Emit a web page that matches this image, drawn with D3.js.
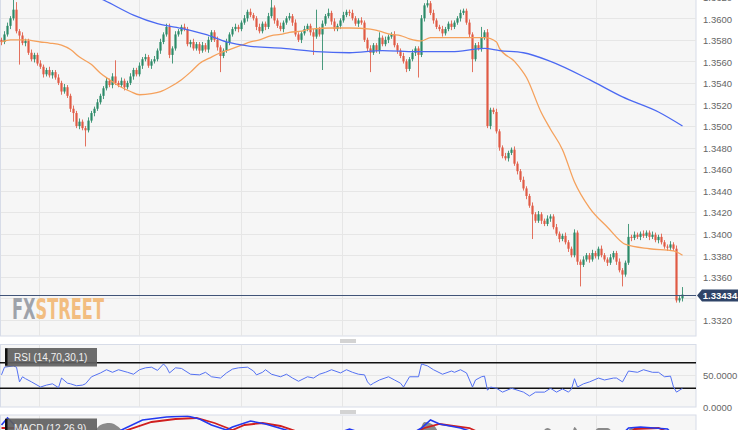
<!DOCTYPE html>
<html><head><meta charset="utf-8">
<script src="https://cdn.jsdelivr.net/npm/d3@7"></script>
<style>html,body{margin:0;padding:0;background:#fff;overflow:hidden}svg{display:block}</style>
</head><body><svg id="c" width="750" height="430"></svg>
<script>
// ---------- DATA ----------
const firstOpen = 1.3580;
const closes = [
1.3578,1.3585,1.3593,1.3600,1.3608,1.3588,1.3584,1.3577,1.3579,1.3568,
1.3562,1.3566,1.3558,1.3555,1.3548,1.3552,1.3547,1.3550,1.3545,1.3540,
1.3532,1.3536,1.3528,1.3516,1.3512,1.3500,1.3504,1.3498,1.3496,1.3505,
1.3512,1.3516,1.3522,1.3528,1.3535,1.3542,1.3538,1.3546,1.3540,1.3538,
1.3542,1.3536,1.3540,1.3546,1.3552,1.3548,1.3556,1.3562,1.3564,1.3556,
1.3560,1.3562,1.3570,1.3578,1.3585,1.3592,1.3566,1.3572,1.3585,1.3588,
1.3592,1.3590,1.3576,1.3578,1.3572,1.3576,1.3570,1.3575,1.3571,1.3580,
1.3587,1.3580,1.3573,1.3565,1.3570,1.3578,1.3585,1.3590,1.3592,1.3590,
1.3596,1.3600,1.3606,1.3603,1.3600,1.3592,1.3588,1.3595,1.3592,1.3602,
1.3610,1.3598,1.3593,1.3590,1.3596,1.3600,1.3602,1.3596,1.3585,1.3580,
1.3586,1.3590,1.3593,1.3587,1.3583,1.3590,1.3585,1.3595,1.3602,1.3605,
1.3597,1.3590,1.3593,1.3598,1.3603,1.3606,1.3605,1.3600,1.3595,1.3598,
1.3596,1.3580,1.3572,1.3568,1.3575,1.3570,1.3582,1.3576,1.3580,1.3583,
1.3585,1.3575,1.3570,1.3565,1.3560,1.3553,1.3562,1.3568,1.3572,1.3566,
1.3600,1.3612,1.3614,1.3605,1.3598,1.3592,1.3590,1.3586,1.3590,1.3595,
1.3592,1.3596,1.3600,1.3605,1.3607,1.3596,1.3585,1.3562,1.3575,1.3572,
1.3582,1.3587,1.3500,1.3515,1.3513,1.3495,1.3480,1.3472,1.3470,1.3475,
1.3478,1.3465,1.3458,1.3450,1.3442,1.3435,1.3426,1.3418,1.3412,1.3418,
1.3412,1.3409,1.3414,1.3416,1.3406,1.3400,1.3395,1.3398,1.3392,1.3386,
1.3380,1.3401,1.3374,1.3371,1.3376,1.3380,1.3376,1.3382,1.3379,1.3386,
1.3380,1.3376,1.3373,1.3378,1.3382,1.3374,1.3366,1.3362,1.3373,1.3397,
1.3396,1.3399,1.3397,1.3400,1.3398,1.3401,1.3397,1.3399,1.3394,1.3397,
1.3392,1.3388,1.3387,1.3390,1.3386,1.3338,1.3340,1.33434];
const wickUpPips = [
2,3,3,2,9,7,2,3,2,2,3,2,2,3,2,2,3,2,2,3,
2,3,2,2,3,2,3,2,2,3,2,2,3,2,2,3,2,3,15,2,
3,2,2,3,2,2,3,2,3,2,2,3,2,3,2,3,3,2,3,2,
2,3,2,2,3,2,2,3,2,3,2,2,3,2,2,3,2,2,3,2,
2,3,2,3,2,2,3,2,2,3,7,2,2,3,2,2,3,2,3,2,
2,3,2,2,3,18,2,3,2,4,2,3,2,2,3,2,2,3,2,2,
3,2,2,3,2,2,5,2,3,2,2,3,2,2,3,2,2,3,2,2,
3,2,4,2,3,2,2,3,2,2,3,2,2,3,2,2,3,2,2,3,
10,2,3,2,2,3,2,2,3,2,2,3,2,2,3,2,2,3,2,3,
2,2,3,2,2,3,2,2,3,2,2,3,2,2,3,2,2,3,2,2,
3,2,2,3,2,2,3,2,2,12,2,3,2,2,3,2,2,3,2,2,
3,2,2,3,2,3,2,7];
const wickDownPips = [
3,2,2,3,2,2,27,2,3,2,2,3,2,2,3,2,2,3,2,2,
3,2,2,3,8,2,3,2,15,2,2,3,2,2,3,2,2,3,2,2,
2,3,2,2,3,2,2,3,2,2,3,2,2,3,2,2,3,8,2,2,
3,2,2,3,2,2,3,2,2,3,2,2,3,15,2,2,3,2,2,3,
2,2,3,2,2,3,2,2,3,2,2,3,2,2,3,2,2,3,2,2,
3,2,2,3,17,2,2,33,2,2,3,2,2,3,2,2,3,2,2,3,
2,2,3,18,2,2,3,2,2,3,2,2,3,2,2,3,2,2,3,21,
2,3,2,2,3,2,2,3,2,2,3,2,2,3,2,2,3,12,2,2,
3,2,2,3,2,2,3,2,2,3,2,2,3,2,2,3,2,23,2,2,
3,2,2,3,2,2,3,2,2,3,2,2,3,20,2,2,3,2,2,3,
2,2,3,2,2,3,2,11,2,2,3,2,2,3,2,2,3,2,2,3,
2,2,3,2,2,2,2,3];

const priceTicks = [1.3320,1.3340,1.3360,1.3380,1.3400,1.3420,1.3440,1.3460,1.3480,1.3500,1.3520,1.3540,1.3560,1.3580,1.3600,1.3620];
const lastPrice = 1.33434;
const timeGridIdx = [12.5,45.8,79.8,113.5,164.8,198.2];

const maFastIdx = [0,3,8,13,16,20,23,26,30,33,36,40,43,46,50,53,56,60,63,66,70,73,76,80,83,86,90,93,96,100,103,110,116,123,126,130,133,136,140,143,150,156,161,165,166,171,175,180,183,187,191,196,202,208,216,224,227];
const maFastVal = [1.3578,1.3580,1.3580,1.3578,1.3577,1.3575,1.3571,1.3564,1.3557,1.3549,1.3543,1.3536,1.3532,1.3529,1.3530,1.3532,1.3536,1.3543,1.3550,1.3558,1.3564,1.3568,1.3571,1.3575,1.3578,1.3580,1.3584,1.3585,1.3587,1.3588,1.3590,1.3591,1.3591,1.3590,1.3588,1.3585,1.3584,1.3581,1.3579,1.3582,1.3582,1.3582,1.3582,1.3578,1.3572,1.3560,1.3545,1.3512,1.3497,1.3478,1.3448,1.3424,1.3406,1.3390,1.3386,1.3384,1.3380];
const maSlowIdx = [30,34,44,52,61,68,75,83,94,105,116,127,138,150,161,166,174,183,196,207,219,227];
const maSlowVal = [1.3622,1.3617,1.3603,1.3595,1.3590,1.3585,1.3578,1.3574,1.3572,1.3569,1.3568,1.3570,1.3569,1.3569,1.3572,1.3570,1.3568,1.3560,1.3543,1.3527,1.3513,1.3500];

const rsiIdx = [0,1,4,5,6,7,8,10,13,15,17,19,20,22,23,25,27,28,30,33,35,37,39,42,44,46,48,50,52,54,55,56,58,60,63,66,68,70,73,75,77,79,82,84,85,87,88,90,93,95,97,99,102,104,106,108,110,113,115,117,119,121,122,123,124,126,129,131,133,134,136,139,140,142,144,147,150,151,153,155,157,158,160,161,162,163,165,167,170,174,176,178,181,183,185,187,189,190,191,192,194,196,199,201,204,205,207,209,212,214,217,219,221,223,224,225,227];
const rsiVal = [51,63,65,63,40,48,45,40,32,35,37,31,46,38,37,34,35,37,48,54,59,55,59,55,52,59,62,63,58,68,63,54,62,61,52,51,55,48,46,54,60,62,63,57,51,55,59,52,48,52,46,41,48,46,52,55,59,54,59,55,52,51,40,35,38,43,48,43,38,32,48,48,68,65,59,52,57,55,59,54,32,43,48,49,27,32,30,24,30,24,18,24,24,30,24,29,24,29,45,32,37,40,46,43,46,46,40,57,55,59,55,55,48,49,32,24,30];
const rsiLevels = [70,30];
const rsiTicks = [50,0];

const macdIdx = [0,2,4,6,13,26,36,40,47,55,62,66,70,75,77,83,88,96,106,116,119,133,140,143,146,153,158,163,176,186,200,209,213,222,227];
const macdVal = [0.0020,0.0027,0.0021,0.0013,0.0005,0.0000,0.0009,0.0015,0.0025,0.0028,0.0029,0.0026,0.0020,0.0015,0.0018,0.0024,0.0021,0.0014,0.0005,0.0016,0.0013,0.0005,0.0017,0.0025,0.0021,0.0017,0.0012,0.0000,-0.0035,-0.0025,-0.0010,0.0017,0.0018,0.0016,0.0000];
const signalIdx = [0,6,13,26,36,41,50,58,65,71,77,81,87,93,99,110,119,133,141,146,156,163,176,190,203,211,219,227];
const signalVal = [0.0017,0.0017,0.0009,0.0001,0.0005,0.0014,0.0023,0.0026,0.0027,0.0022,0.0015,0.0020,0.0022,0.0019,0.0013,0.0008,0.0013,0.0007,0.0017,0.0021,0.0017,0.0007,-0.0025,-0.0020,-0.0005,0.0016,0.0017,0.0007];
const histIdx = [26,30,33,36,39,42,48,60,135,139,141,144,147,160,178,182,186,190,191,193,197,199,202,205,208,210,212,215,227];
const histVal = [0,0.0010,0.0020,0.0022,0.0018,0.0008,0.0004,0.0003,0.0003,0.0012,0.0023,0.0020,0.0008,0.0002,0.0006,0.0017,0.0008,0.0010,0.0018,0.0010,0.0012,0.0017,0.0017,0.0010,0.0012,0.0017,0.0015,0.0008,0.0002];

// ---------- CHART ----------
const svg = d3.select('#c');
const PW = 696; // plot right edge
const PIP = 0.0001;
const GREEN = '#2b8a68', RED = '#e05a44';

const x = d3.scaleLinear().domain([0, closes.length - 1]).range([1.5, 682.5]);
const y = d3.scaleLinear().domain([1.3320, 1.3600]).range([319.8, 18.3]);
const rsiY = d3.scaleLinear().domain([0, 100]).range([407.5, 343.5]);
const macdY = d3.scaleLinear().domain([-0.003, 0.003]).range([475, 415]);

const defs = svg.append('defs');
defs.append('clipPath').attr('id', 'cMain').append('rect').attr('x', 0).attr('y', 0).attr('width', PW).attr('height', 336);
defs.append('clipPath').attr('id', 'cRsi').append('rect').attr('x', 0).attr('y', 344.5).attr('width', PW).attr('height', 62.5);
defs.append('clipPath').attr('id', 'cMacd').append('rect').attr('x', 0).attr('y', 415.5).attr('width', PW).attr('height', 40);
// two-tone fill for the logo (gray "FX", orange "STREET")
const lg = defs.append('linearGradient').attr('id', 'logoFill').attr('gradientUnits', 'userSpaceOnUse')
  .attr('x1', 12).attr('x2', 104).attr('y1', 0).attr('y2', 0);
const split = (35 - 12) / (104 - 12);
lg.append('stop').attr('offset', 0).attr('stop-color', '#9ea2aa');
lg.append('stop').attr('offset', split).attr('stop-color', '#9ea2aa');
lg.append('stop').attr('offset', split).attr('stop-color', '#f2bd80');
lg.append('stop').attr('offset', 1).attr('stop-color', '#f2bd80');

// panels
const panels = [[-1, 337], [344.5, 62.5], [415, 40]];
panels.forEach(([py, ph]) => {
  svg.append('rect').attr('x', 0.5).attr('y', py).attr('width', PW - 0.5).attr('height', ph)
    .attr('fill', '#f6f6f6').attr('stroke', '#d7dce8').attr('stroke-width', 1);
});

// main gridlines
const main = svg.append('g').attr('clip-path', 'url(#cMain)');
main.selectAll('.hg').data(priceTicks).enter().append('line')
  .attr('x1', 1).attr('x2', PW).attr('y1', d => Math.round(y(d)) + 0.5).attr('y2', d => Math.round(y(d)) + 0.5)
  .attr('stroke', '#e6e6e6').attr('stroke-width', 1);
main.selectAll('.vg').data(timeGridIdx).enter().append('line')
  .attr('y1', 0).attr('y2', 336).attr('x1', d => Math.round(x(d)) + 0.5).attr('x2', d => Math.round(x(d)) + 0.5)
  .attr('stroke', '#e6e6e6').attr('stroke-width', 1);

// logo
svg.append('text').attr('x', 12).attr('y', 319)
  .attr('font-family', '"Liberation Sans Narrow","DejaVu Sans Condensed",sans-serif')
  .attr('font-weight', 'bold').attr('font-size', 28).attr('textLength', 92).attr('lengthAdjust', 'spacingAndGlyphs')
  .attr('fill', 'url(#logoFill)').text('FXSTREET');

// candles
const candles = closes.map((c, i) => {
  const o = i === 0 ? firstOpen : closes[i - 1];
  return { i, o, c, h: Math.max(o, c) + wickUpPips[i] * PIP, l: Math.min(o, c) - wickDownPips[i] * PIP };
});
const cg = main.append('g');
cg.selectAll('.w').data(candles).enter().append('line')
  .attr('x1', d => x(d.i)).attr('x2', d => x(d.i))
  .attr('y1', d => y(d.h)).attr('y2', d => y(d.l))
  .attr('stroke', d => d.c >= d.o ? GREEN : RED).attr('stroke-width', 1).attr('opacity', 0.85);
cg.selectAll('.b').data(candles).enter().append('rect')
  .attr('x', d => x(d.i) - 1.1).attr('width', 2.2)
  .attr('y', d => y(Math.max(d.o, d.c)))
  .attr('height', d => Math.max(1, Math.abs(y(d.o) - y(d.c))))
  .attr('fill', d => d.c >= d.o ? GREEN : RED);

// moving averages
const maLine = (idx, vals, ys) => d3.line().curve(d3.curveMonotoneX).x((d, k) => x(idx[k])).y(d => ys(d))(vals);
main.append('path').attr('d', maLine(maFastIdx, maFastVal, y)).attr('fill', 'none').attr('stroke', '#f5a15c').attr('stroke-width', 1.3);
main.append('path').attr('d', maLine(maSlowIdx, maSlowVal, y)).attr('fill', 'none').attr('stroke', '#4b69f2').attr('stroke-width', 1.3);

// last price line
const ly = Math.round(y(lastPrice)) + 0.5;
svg.append('line').attr('x1', 0).attr('x2', PW).attr('y1', ly).attr('y2', ly).attr('stroke', '#415478').attr('stroke-width', 1.2);

// price axis (labels hidden under the last-price tag are skipped, as in the reference)
const labelTicks = priceTicks.filter(t => Math.abs(y(t) - ly) > 9);
const pAxis = svg.append('g').attr('transform', 'translate(701,0)')
  .call(d3.axisRight(y).tickValues(labelTicks).tickSize(0).tickPadding(2).tickFormat(d3.format('.4f')));
pAxis.select('.domain').remove();
pAxis.selectAll('text').attr('font-family', '"Liberation Sans",Arial,sans-serif').attr('font-size', 9.5).attr('fill', '#666').attr('dy', '0.4em');

// last price tag
const tg = svg.append('g');
tg.append('path').attr('d', `M697,${ly} L702,${ly - 6} L738,${ly - 6} L738,${ly + 6} L702,${ly + 6} Z`).attr('fill', '#2f4468');
tg.append('text').attr('x', 720).attr('y', ly).attr('dy', '0.36em').attr('text-anchor', 'middle')
  .attr('font-family', '"Liberation Sans",Arial,sans-serif').attr('font-size', 9.5).attr('font-weight', 'bold').attr('fill', '#fff')
  .text(d3.format('.5f')(lastPrice));

// separators
[339.5, 341.5, 410.5, 412.5].forEach(sy => {
  svg.append('rect').attr('x', 340).attr('y', sy).attr('width', 16).attr('height', 1).attr('fill', '#a8a8a8');
});

// RSI panel
const rg = svg.append('g').attr('clip-path', 'url(#cRsi)');
rg.selectAll('.vg').data(timeGridIdx).enter().append('line')
  .attr('y1', 344.5).attr('y2', 407).attr('x1', d => Math.round(x(d)) + 0.5).attr('x2', d => Math.round(x(d)) + 0.5)
  .attr('stroke', '#e6e6e6');
rg.append('line').attr('x1', 0).attr('x2', PW).attr('y1', rsiY(50)).attr('y2', rsiY(50)).attr('stroke', '#e6e6e6');
rg.selectAll('.lv').data(rsiLevels).enter().append('line')
  .attr('x1', 0).attr('x2', PW).attr('y1', d => rsiY(d)).attr('y2', d => rsiY(d))
  .attr('stroke', '#111').attr('stroke-width', 1.6);
rg.append('path').attr('d', d3.line().x((d, k) => x(rsiIdx[k])).y(d => rsiY(d))(rsiVal))
  .attr('fill', 'none').attr('stroke', '#5471f2').attr('stroke-width', 1);
const rAxis = svg.append('g').attr('transform', 'translate(701,0)')
  .call(d3.axisRight(rsiY).tickValues(rsiTicks).tickSize(0).tickPadding(2).tickFormat(d3.format('.4f')));
rAxis.select('.domain').remove();
rAxis.selectAll('text').attr('font-family', '"Liberation Sans",Arial,sans-serif').attr('font-size', 9.5).attr('fill', '#666').attr('dy', '0.3em');

function labelBox(ty, txt) {
  const g = svg.append('g');
  g.append('rect').attr('x', 5).attr('y', ty).attr('width', 92).attr('height', 18.5).attr('fill', '#5f5f5f').attr('opacity', 0.92);
  g.append('rect').attr('x', 5).attr('y', ty + 0.5).attr('width', 2.5).attr('height', 17).attr('fill', '#111');
  g.append('text').attr('x', 14).attr('y', ty + 13).attr('font-family', '"Liberation Sans",Arial,sans-serif')
    .attr('font-size', 10).attr('fill', '#f0f0f0').text(txt);
}

// MACD panel
const mg = svg.append('g').attr('clip-path', 'url(#cMacd)');
mg.selectAll('.vg').data(timeGridIdx).enter().append('line')
  .attr('y1', 415).attr('y2', 455).attr('x1', d => Math.round(x(d)) + 0.5).attr('x2', d => Math.round(x(d)) + 0.5)
  .attr('stroke', '#e6e6e6');
mg.append('path').attr('d', d3.area().curve(d3.curveMonotoneX).x((d, k) => x(histIdx[k])).y0(macdY(0)).y1(d => macdY(d))(histVal))
  .attr('fill', '#8a8a8a');
mg.append('path').attr('d', d3.line().x((d, k) => x(signalIdx[k])).y(d => macdY(d))(signalVal))
  .attr('fill', 'none').attr('stroke', '#d01f1f').attr('stroke-width', 1.8);
mg.append('path').attr('d', d3.line().x((d, k) => x(macdIdx[k])).y(d => macdY(d))(macdVal))
  .attr('fill', 'none').attr('stroke', '#2339f0').attr('stroke-width', 1.6);

labelBox(348, 'RSI (14,70,30,1)');
labelBox(418.5, 'MACD (12,26,9)');
</script></body></html>
